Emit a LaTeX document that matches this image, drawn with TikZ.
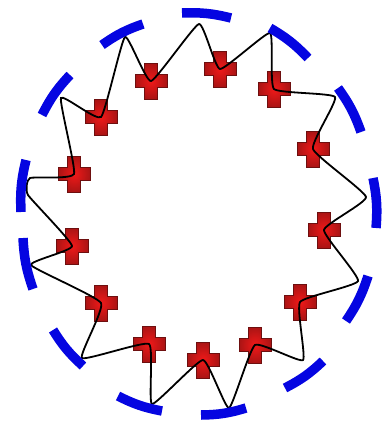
\documentclass[tikz,border=0pt]{standalone}
\begin{document}
\begin{tikzpicture}[x=1pt,y=-1pt,
  bluearc/.style={draw={rgb,255:red,5;green,5;blue,225},line width=9.5pt,line cap=butt},
  chain/.style={draw=black,line width=1.8pt},
  crossstyle/.style={inner color={rgb,255:red,240;green,25;blue,25},outer color={rgb,255:red,170;green,20;blue,20},draw={rgb,255:red,110;green,15;blue,15},line width=1pt,line join=miter},
  redcross/.pic={\path[crossstyle,shading=radial] (-6.5,-18)--(6.5,-18)--(6.5,-6.5)--(16,-6.5)--(16,6.5)--(6.5,6.5)--(6.5,18)--(-6.5,18)--(-6.5,6.5)--(-16,6.5)--(-16,-6.5)--(-6.5,-6.5)--cycle;}
]
\useasboundingbox (0,0) rectangle (386,426);
% crosses
\coordinate (c1) at (220,69);
\coordinate (c2) at (274,89);
\coordinate (c3) at (313,149);
\coordinate (c4) at (324,230);
\coordinate (c5) at (300,302);
\coordinate (c6) at (255,345);
\coordinate (c7) at (203,360);
\coordinate (c8) at (149,344);
\coordinate (c9) at (101,303);
\coordinate (c10) at (72,246);
\coordinate (c11) at (74,174);
\coordinate (c12) at (101,117);
\coordinate (c13) at (151,81);
% attach points on blue arcs
\coordinate (a1) at (199,24);
\coordinate (a13) at (270,33);
\coordinate (a12) at (335,97);
\coordinate (a11) at (366,197);
\coordinate (a10) at (358,281);
\coordinate (a9) at (303,360);
\coordinate (a8) at (229,408);
\coordinate (a7) at (152,404);
\coordinate (a6) at (82,358);
\coordinate (a5) at (31,265);
\coordinate (a4b) at (28,195);
\coordinate (a4a) at (30,178);
\coordinate (a3) at (61,98);
\coordinate (a2) at (125,37);
% blue arc ends
\coordinate (b1s) at (182,13);  \coordinate (b1e) at (231,18);
\coordinate (b13s) at (270,28); \coordinate (b13e) at (308,58);
\coordinate (b12s) at (338,88); \coordinate (b12e) at (361,132);
\coordinate (b11s) at (373,178); \coordinate (b11e) at (376,228);
\coordinate (b10s) at (368,276); \coordinate (b10e) at (346,321);
\coordinate (b9s) at (323,361); \coordinate (b9e) at (285,388);
\coordinate (b8s) at (246,408); \coordinate (b8e) at (201,415);
\coordinate (b7s) at (162,411); \coordinate (b7e) at (118,396);
\coordinate (b6s) at (83,366);  \coordinate (b6e) at (53,330);
\coordinate (b5s) at (33,289);  \coordinate (b5e) at (23,238);
\coordinate (b4s) at (21,212);  \coordinate (b4e) at (26,160);
\coordinate (b3s) at (42,115);  \coordinate (b3e) at (70,75);
\coordinate (b2s) at (102,45);  \coordinate (b2e) at (143,24);

\foreach \c in {c1,c2,c3,c4,c5,c6,c7,c8,c9,c10,c11,c12,c13}
  \pic at (\c) {redcross};

\draw[chain] plot[smooth cycle,tension=0.25] coordinates {
 (a1) (c1) (a13) (c2) (a12) (c3) (a11) (c4) (a10) (c5) (a9) (c6) (a8) (c7)
 (a7) (c8) (a6) (c9) (a5) (c10) (a4b) (a4a) (c11) (a3) (c12) (a2) (c13)};

\foreach \b in {b1,b2,b3,b4,b5,b6,b7,b8,b9,b10,b11,b12,b13}
  \draw[bluearc] (\b s) to[bend left=8] (\b e);
\end{tikzpicture}
\end{document}
